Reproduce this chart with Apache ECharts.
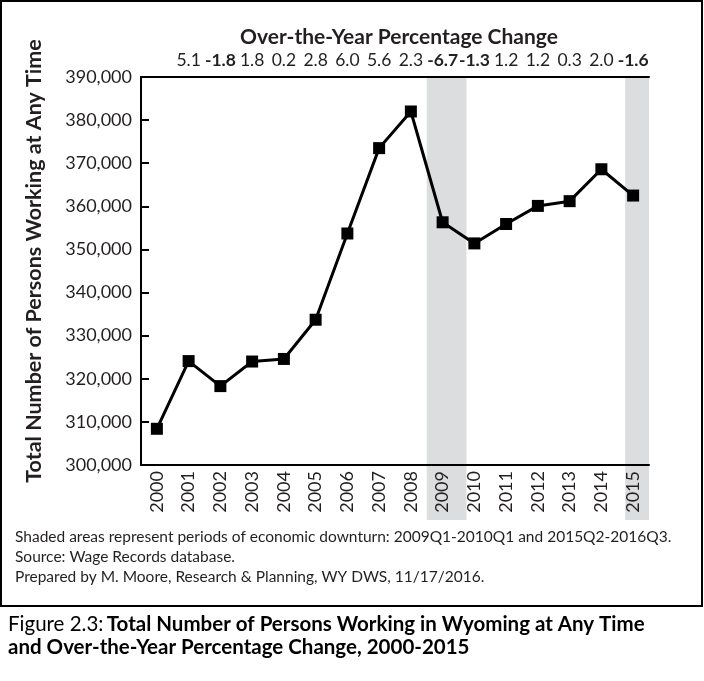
<!DOCTYPE html>
<html>
<head>
<meta charset="utf-8">
<script src="https://cdn.jsdelivr.net/npm/echarts@6/dist/echarts.min.js"></script>
<style>
html,body{margin:0;padding:0;background:#fff;}
#main{width:704px;height:681px;}
</style>
</head>
<body>
<div id="main"></div>
<script>
// ---- data ----
var years = ['2000','2001','2002','2003','2004','2005','2006','2007','2008','2009','2010','2011','2012','2013','2014','2015'];
var personsWorking = [308400, 324100, 318300, 324000, 324600, 333700, 353700, 373500, 382000, 356300, 351400, 355900, 360100, 361200, 368600, 362500];
var pctChange = ['', '5.1', '-1.8', '1.8', '0.2', '2.8', '6.0', '5.6', '2.3', '-6.7', '-1.3', '1.2', '1.2', '0.3', '2.0', '-1.6'];
// downturn periods as fractional years (2009Q1-2010Q1, 2015Q2-2016Q3)
var downturnStart = [2009.0, 2015.25];
var downturnEnd = [2010.25, 2016.75];
var yTicks = [300000, 310000, 320000, 330000, 340000, 350000, 360000, 370000, 380000, 390000];

var FONT = 'Lato';
var chart = echarts.init(document.getElementById('main'), null, {renderer: 'canvas'});

var bandData = downturnStart.map(function (s, i) { return [s, downturnEnd[i]]; });

function fmtNum(v) {
  return String(v).replace(/\B(?=(\d{3})+(?!\d))/g, ',');
}

var option = {
  backgroundColor: '#fff',
  animation: false,
  title: {
    text: 'Over-the-Year Percentage Change',
    left: 394,
    textAlign: 'center',
    top: 22,
    textStyle: {fontFamily: FONT, fontWeight: 'bold', fontSize: 21, color: '#231f20'}
  },
  grid: {left: 141, right: 55, top: 77, bottom: 216, containLabel: false},
  xAxis: [{
    type: 'category',
    data: years,
    position: 'bottom',
    boundaryGap: true,
    axisLine: {lineStyle: {color: '#000', width: 2}},
    axisTick: {inside: true, length: 8, lineStyle: {color: '#000', width: 2}},
    axisLabel: {rotate: 90, margin: 6, fontFamily: FONT, fontSize: 18, color: '#231f20', interval: 0}
  }, {
    type: 'category',
    data: pctChange,
    position: 'top',
    boundaryGap: true,
    axisLine: {lineStyle: {color: '#000', width: 2}},
    axisTick: {inside: true, length: 8, lineStyle: {color: '#000', width: 2}},
    axisLabel: {
      margin: 8, interval: 0, fontFamily: FONT, fontSize: 17.5, color: '#231f20',
      formatter: function (v) {
        if (v.charAt(0) === '-') return '{b|' + v + '}';
        return v;
      },
      rich: {b: {fontFamily: FONT, fontSize: 17.5, fontWeight: 'bold', color: '#231f20'}}
    }
  }],
  yAxis: {
    type: 'value',
    min: yTicks[0],
    max: yTicks[yTicks.length - 1],
    interval: 10000,
    name: 'Total Number of Persons Working at Any Time',
    nameLocation: 'middle',
    nameGap: 96,
    nameTextStyle: {fontFamily: FONT, fontWeight: 'bold', fontSize: 21.5, color: '#231f20', padding: [0, 0, 0, 20]},
    axisLine: {show: true, lineStyle: {color: '#000', width: 2}},
    axisTick: {show: true, inside: true, length: 8, lineStyle: {color: '#000', width: 2}},
    splitLine: {show: false},
    axisLabel: {margin: 9, fontFamily: FONT, fontSize: 18, color: '#231f20', formatter: fmtNum}
  },
  series: [{
    type: 'custom',
    z: -1,
    silent: true,
    clip: false,
    xAxisIndex: 0,
    data: bandData,
    renderItem: function (params, api) {
      var s = api.value(0) - 2000, e = api.value(1) - 2000;
      var w = api.size([1, 0])[0];
      var c0 = api.coord([0, yTicks[yTicks.length - 1]]);
      var cLast = api.coord([years.length - 1, yTicks[0]]);
      var leftEdge = c0[0] - w / 2;
      var rightEdge = cLast[0] + w / 2;
      var x1 = leftEdge + s * w;
      var x2 = Math.min(leftEdge + e * w, rightEdge);
      var yTop = c0[1];
      var yBot = cLast[1] + 55;
      return {
        type: 'rect',
        shape: {x: x1, y: yTop, width: x2 - x1, height: yBot - yTop},
        style: {fill: '#dcdddf'}
      };
    }
  }, {
    type: 'line',
    xAxisIndex: 0,
    data: personsWorking,
    symbol: 'rect',
    symbolSize: 12,
    lineStyle: {color: '#000', width: 3},
    itemStyle: {color: '#000'},
    z: 5
  }],
  graphic: [{
    type: 'rect',
    shape: {x: 1, y: 1, width: 701, height: 605},
    style: {fill: null, stroke: '#000', lineWidth: 2},
    z: 100
  }, {
    type: 'text',
    left: 15, top: 527,
    style: {
      text: 'Shaded areas represent periods of economic downturn: 2009Q1-2010Q1 and 2015Q2-2016Q3.\nSource: Wage Records database.\nPrepared by M. Moore, Research & Planning, WY DWS, 11/17/2016.',
      font: '15.5px Lato', fill: '#231f20', lineHeight: 20
    }
  }, {
    type: 'text',
    left: 8, top: 614,
    style: {
      text: '{g|Figure 2.3:} {b|Total Number of Persons Working in Wyoming at Any Time}\n{b|and Over-the-Year Percentage Change, 2000-2015}',
      rich: {
        g: {fontFamily: FONT, fontSize: 20.5, color: '#6d6e71', lineHeight: 23},
        b: {fontFamily: FONT, fontSize: 20.5, fontWeight: 'bold', color: '#231f20', lineHeight: 23}
      }
    }
  }]
};
chart.setOption(option);
</script>
</body>
</html>
